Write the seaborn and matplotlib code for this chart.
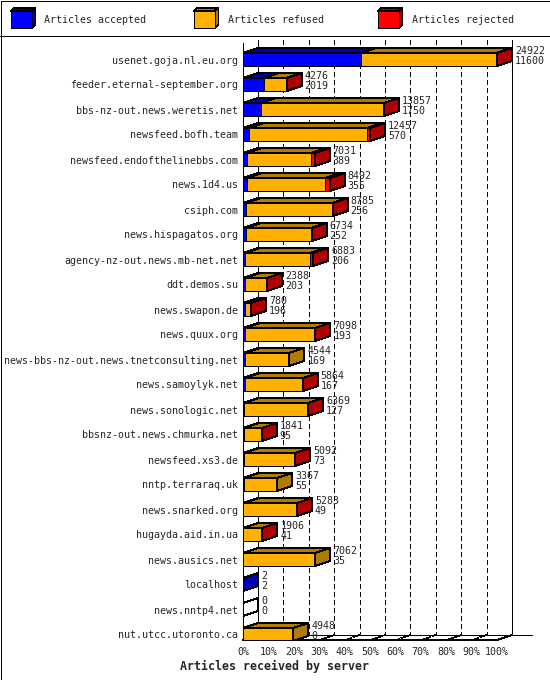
import numpy as np
import pandas as pd
import matplotlib
matplotlib.use("Agg")
import matplotlib.pyplot as plt
from matplotlib.patches import Polygon, Rectangle
import seaborn as sns

# ----------------------------
# Data
# ----------------------------
servers = [
    "usenet.goja.nl.eu.org", "feeder.eternal-september.org",
    "bbs-nz-out.news.weretis.net", "newsfeed.bofh.team",
    "newsfeed.endofthelinebbs.com", "news.1d4.us", "csiph.com",
    "news.hispagatos.org", "agency-nz-out.news.mb-net.net", "ddt.demos.su",
    "news.swapon.de", "news.quux.org",
    "news-bbs-nz-out.news.tnetconsulting.net", "news.samoylyk.net",
    "news.sonologic.net", "bbsnz-out.news.chmurka.net", "newsfeed.xs3.de",
    "nntp.terraraq.uk", "news.snarked.org", "hugayda.aid.in.ua",
    "news.ausics.net", "localhost", "news.nntp4.net", "nut.utcc.utoronto.ca",
]
offered = [24922, 4276, 13857, 12457, 7031, 8492, 8785, 6734, 6883, 2388,
           780, 7098, 4544, 5864, 6369, 1841, 5092, 3367, 5283, 1906,
           7062, 2, 0, 4948]
accepted = [11600, 2019, 1750, 570, 389, 355, 256, 252, 206, 203,
            196, 193, 169, 167, 127, 95, 73, 55, 49, 41,
            35, 2, 0, 0]
# rejected counts are not printed, estimated from the red widths
rejected = [80, 15, 20, 250, 350, 450, 10, 10, 350, 10,
            8, 10, 0, 10, 10, 10, 10, 0, 10, 10,
            0, 0, 0, 0]

legend_labels = ["Articles accepted", "Articles refused", "Articles rejected"]
tick_values = [0, 10, 20, 30, 40, 50, 60, 70, 80, 90, 100]
tick_labels = ["0%", "10%", "20%", "30%", "40%", "50%", "60%", "70%", "80%", "90%", "100%"]
title = "Articles received by server"

front_colors = ["#0000FF", "#FFB000", "#FF0000"]
dark_colors = ["#0000B0", "#B07C00", "#B00000"]

offered = np.array(offered, dtype=float)
accepted = np.array(accepted, dtype=float)
rejected = np.array(rejected, dtype=float)
refused = offered - accepted - rejected

scale = 100.0 / offered.max()
df = pd.DataFrame({
    "server": servers,
    "acc": accepted * scale,
    "acc_ref": (accepted + refused) * scale,
    "all": offered * scale,
})

sns.set_style("white")
plt.rcParams["font.family"] = ["DejaVu Sans Mono"]
plt.rcParams["lines.antialiased"] = False
plt.rcParams["patch.antialiased"] = False
FS = 7.2
LW = 0.72

fig = plt.figure(figsize=(5.5, 6.8), dpi=100)

# background axes in pixel coords for frame / legend / title
bg = fig.add_axes([0, 0, 1, 1])
bg.set_xlim(0, 550)
bg.set_ylim(680, 0)
bg.axis("off")
bg.add_patch(Rectangle((0.5, 0.5), 549, 679, fill=False, lw=LW, ec="black"))
bg.plot([0, 550], [35.5, 35.5], color="black", lw=LW)
for j, x0 in enumerate([10.5, 193.5, 377.5]):
    bg.add_patch(Polygon([(x0, 11), (x0 + 21, 11), (x0 + 25, 8), (x0 + 4, 8)],
                         closed=True, fc=dark_colors[j], ec="black", lw=LW))
    bg.add_patch(Polygon([(x0 + 21, 11), (x0 + 21, 28), (x0 + 25, 25), (x0 + 25, 8)],
                         closed=True, fc=dark_colors[j], ec="black", lw=LW))
    bg.add_patch(Rectangle((x0, 11), 21, 17, fc=front_colors[j], ec="black", lw=LW))
    bg.text(x0 + 34, 20, legend_labels[j], fontsize=FS, va="center", ha="left")
bg.text(274, 666, title, fontsize=8.4, fontweight="bold", ha="center", va="center")

# main axes: 0% at x=243px, 100% at x=497px, row i at y=59.5+25*i px
px_x = 2.54
left, right, top, bottom = 243, 540, 40, 640
ax = fig.add_axes([left / 550, 1 - bottom / 680, (right - left) / 550, (bottom - top) / 680])
ax.patch.set_alpha(0)

sns.barplot(data=df, x="all", y="server", color=front_colors[2], saturation=1,
            width=0.52, edgecolor="black", linewidth=LW, ax=ax, zorder=3)
sns.barplot(data=df, x="acc_ref", y="server", color=front_colors[1], saturation=1,
            width=0.52, edgecolor="black", linewidth=LW, ax=ax, zorder=3)
sns.barplot(data=df, x="acc", y="server", color=front_colors[0], saturation=1,
            width=0.52, edgecolor="black", linewidth=LW, ax=ax, zorder=3)

y0 = (top - 59.5) / 25
Y0 = (bottom - 59.5) / 25
ax.set_xlim(0, (right - left) / px_x)
ax.set_ylim(Y0, y0)
dx = 15 / px_x
dy = 5 / 25
h = 0.52

# back wall and floor
for k in tick_values[1:-1]:
    ax.plot([k + dx, k + dx], [y0, Y0 - dy], color="black", lw=LW,
            ls=(0, (5, 3)), zorder=1, clip_on=False)
    ax.plot([k, k + dx], [Y0, Y0 - dy], color="black", lw=LW,
            ls=(0, (2, 2)), zorder=1, clip_on=False)
for k in [0, 100]:
    ax.plot([k + dx, k + dx], [y0, Y0 - dy], color="black", lw=LW, zorder=1, clip_on=False)
ax.plot([0, 0], [y0 + 0.12, Y0], color="black", lw=LW, zorder=2, clip_on=False)
ax.plot([0, 100, 100 + dx], [Y0, Y0, Y0 - dy], color="black", lw=LW, zorder=2, clip_on=False)
ax.plot([dx, (532 - left) / px_x], [Y0 - dy, Y0 - dy], color="black", lw=LW, zorder=1, clip_on=False)

# 3D top and side faces
for i in range(len(servers)):
    edges = [0, df["acc"][i], df["acc_ref"][i], df["all"][i]]
    yt = i - h / 2
    yb = i + h / 2
    for j in range(3):
        a, b = edges[j], edges[j + 1]
        if b - a <= 0 and not (j == 0 and edges[3] == 0):
            continue
        ax.add_patch(Polygon([(a, yt), (b, yt), (b + dx, yt - dy), (a + dx, yt - dy)],
                             closed=True, fc=dark_colors[j], ec="black", lw=LW, zorder=3))
    seg_sizes = [edges[1] - edges[0], edges[2] - edges[1], edges[3] - edges[2]]
    side = "white"
    for j in range(3):
        if seg_sizes[j] > 0:
            side = dark_colors[j]
    end = edges[3]
    ax.add_patch(Polygon([(end, yt), (end, yb), (end + dx, yb - dy), (end + dx, yt - dy)],
                         closed=True, fc=side, ec="black", lw=LW, zorder=4))
    tx = end + dx + 3 / px_x
    ax.text(tx, i - 0.33, f"{int(offered[i])}", fontsize=FS, va="center", ha="left", zorder=5)
    ax.text(tx, i + 0.05, f"{int(accepted[i])}", fontsize=FS, va="center", ha="left", zorder=5)

for s in ax.spines.values():
    s.set_visible(False)
ax.set_xticks(tick_values)
ax.set_xticklabels(tick_labels, fontsize=FS)
ax.tick_params(axis="x", direction="out", length=3.6, width=LW, pad=1.5, color="black")
ax.tick_params(axis="y", length=0, pad=3.6, labelsize=FS)
ax.set_xlabel("")
ax.set_ylabel("")

fig.savefig("out.png", dpi=100)
